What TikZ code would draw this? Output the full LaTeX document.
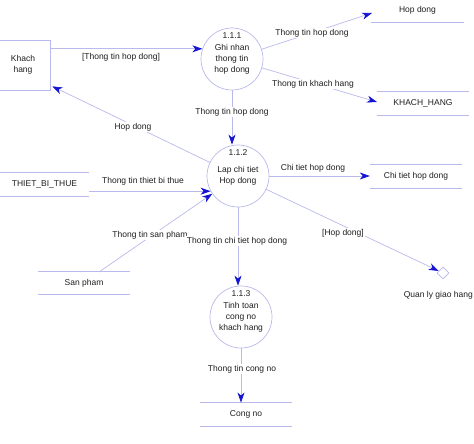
\documentclass[tikz,border=0pt]{standalone}
\usepackage{fontspec}
\setmainfont{Liberation Sans}
\usetikzlibrary{arrows.meta,calc,shapes.geometric}
\definecolor{linec}{RGB}{185,185,235}
\definecolor{tipc}{RGB}{20,20,210}
\definecolor{txtc}{RGB}{30,30,30}
\tikzset{
  every node/.style={font=\fontsize{8.5}{11}\selectfont, text=txtc},
  proc/.style={circle, draw=linec, line width=0.7pt, minimum size=62pt, inner sep=0pt},
  ptxt/.style={align=center, inner sep=0pt},
  store/.style={minimum width=92pt, minimum height=23.5pt, inner sep=0pt},
  sline/.style={draw=linec, line width=0.7pt},
  ent/.style={rectangle, draw=linec, line width=0.7pt, minimum width=54pt, minimum height=50pt, align=center},
  flow/.style={draw=linec, line width=0.7pt, -{Stealth[length=10pt,width=7pt,inset=3pt,color=tipc]}},
  lbl/.style={fill=white, inner sep=1pt}
}
\begin{document}
\begin{tikzpicture}[x=1pt,y=-1pt]
\useasboundingbox (0,0) rectangle (474,444);
% entity
\node[ent] (kh) at (23,65) {Khach\\hang};
% processes
\node[proc] (p1) at (232,59) {};
\node[ptxt] (p1n) at ($(p1)+(0,-23)$) {1.1.1};
\node[ptxt] (p1t) at (p1) {Ghi nhan\\thong tin\\hop dong};
\node[proc] (p2) at (238,176) {};
\node[ptxt] (p2n) at ($(p2)+(0,-23)$) {1.1.2};
\node[ptxt] (p2t) at (p2) {Lap chi tiet\\Hop dong};
\node[proc] (p3) at (241,317) {};
\node[ptxt] (p3n) at ($(p3)+(0,-23)$) {1.1.3};
\node[ptxt] (p3t) at (p3) {Tinh toan\\cong no\\khach hang};
% stores
\node[store] (hd) at (417.5,10) {Hop dong};
\draw[sline] (hd.south west) -- (hd.south east);
\node[store] (khs) at (423,103.5) {KHACH\_HANG};
\draw[sline] (khs.north west) -- (khs.north east) (khs.south west) -- (khs.south east);
\node[store] (cth) at (416,176) {Chi tiet hop dong};
\draw[sline] (cth.north west) -- (cth.north east) (cth.south west) -- (cth.south east);
\node[store, minimum width=89pt] (tbt) at (44.5,184) {THIET\_BI\_THUE};
\draw[sline] (tbt.north west) -- (tbt.north east) (tbt.south west) -- (tbt.south east);
\node[store, minimum height=22pt] (sp) at (84,283) {San pham};
\draw[sline] (sp.north west) -- (sp.north east) (sp.south west) -- (sp.south east);
\node[store] (cn) at (246,414.5) {Cong no};
\draw[sline] (cn.north west) -- (cn.north east) (cn.south west) -- (cn.south east);
% external
\node[diamond, draw=linec, line width=0.7pt, fill=white, minimum size=12pt, inner sep=0pt] (ql) at (443,273) {};
\node[inner sep=0pt, anchor=east] (qlt) at (473,295) {Quan ly giao hang};
% coordinates
\coordinate (hdE) at (372,13);
\coordinate (khsE) at (377,102);
\coordinate (khE) at ($(kh.south east)+(2,-4)$);
\coordinate (spS) at (99,272);
% flows
\draw[flow] (kh.east |- p1.161) -- (p1.161);
\draw[flow] (p1) -- (hdE);
\draw[flow] (p1) -- (khsE);
\draw[flow] (p1.south) -- (p1.south |- p2.north);
\draw[flow] (p2) -- (khE);
\draw[flow] (tbt.east |- p2.209) -- (p2.209);
\draw[flow] (spS) -- (p2);
\draw[flow] (p2.east) -- (cth.west);
\draw[flow] (p2) -- (ql);
\draw[flow] (p2.south) -- (p2.south |- p3.north);
\draw[flow] (p3.south) -- (p3.south |- cn.north);
% labels
\node[lbl] (l1) at (121,57) {[Thong tin hop dong]};
\node[lbl] (l2) at (312,33) {Thong tin hop dong};
\node[lbl] (l3) at (313,84) {Thong tin khach hang};
\node[lbl] (l4) at (232,112) {Thong tin hop dong};
\node[lbl] (l5) at (133,127) {Hop dong};
\node[lbl] (l6) at (143,181) {Thong tin thiet bi thue};
\node[lbl] (l7) at (150,235) {Thong tin san pham};
\node[lbl] (l8) at (313,168) {Chi tiet hop dong};
\node[lbl] (l9) at (343,233) {[Hop dong]};
\node[lbl] (l10) at (237,241) {Thong tin chi tiet hop dong};
\node[lbl] (l11) at (242,369) {Thong tin cong no};
\end{tikzpicture}
\end{document}
